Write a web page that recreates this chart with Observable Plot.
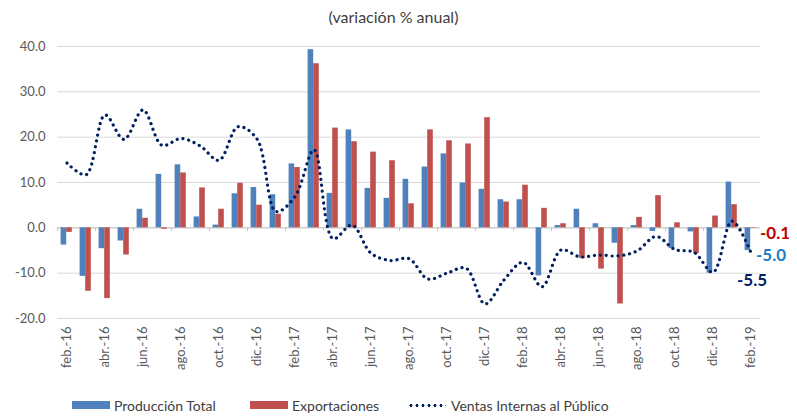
<!DOCTYPE html>
<html>
<head>
<meta charset="utf-8">
<script src="https://cdn.jsdelivr.net/npm/d3@7"></script>
<script src="https://cdn.jsdelivr.net/npm/@observablehq/plot@0.6"></script>
<style>
  html, body { margin: 0; padding: 0; background: #fff; }
  #wrap { position: relative; width: 797px; height: 416px; font-family: Lato, sans-serif; color: #595959; }
  #title { height: 30px; text-align: center; font-size: 16px; line-height: 18px; padding-top: 8px; padding-right: 10px; box-sizing: border-box; color: #404040; }
  #legend { position: absolute; left: 0; top: 396px; width: 797px; height: 20px; font-size: 14px; color: #404040; }
  .item { position: absolute; top: 0; height: 18px; display: flex; align-items: center; }
  .sw { width: 38px; height: 8px; margin-right: 4px; }
  .dots { width: 38px; height: 3px; margin-right: 5px; background-image: radial-gradient(circle, #002060 1.4px, transparent 1.6px); background-size: 6px 3px; background-repeat: repeat-x; }
</style>
</head>
<body>
<div id="wrap">
  <div id="title">(variación % anual)</div>
  <div id="chart"></div>
  <div id="legend"></div>
</div>
<script>
const months = ["feb.-16","mar.-16","abr.-16","may.-16","jun.-16","jul.-16","ago.-16","sep.-16","oct.-16","nov.-16","dic.-16",
  "ene.-17","feb.-17","mar.-17","abr.-17","may.-17","jun.-17","jul.-17","ago.-17","sep.-17","oct.-17","nov.-17","dic.-17",
  "ene.-18","feb.-18","mar.-18","abr.-18","may.-18","jun.-18","jul.-18","ago.-18","sep.-18","oct.-18","nov.-18","dic.-18",
  "ene.-19","feb.-19"];

const produccionTotal = [-3.8,-10.7,-4.6,-2.9,4.1,11.8,13.9,2.4,0.6,7.5,8.9,
  7.3,14.1,39.3,7.6,21.6,8.7,6.5,10.7,13.4,16.3,9.9,8.5,
  6.2,6.2,-10.6,0.5,4.1,0.9,-3.4,0.5,-0.8,-4.6,-0.9,-10.0,
  10.1,-5.0];

const exportaciones = [-1.0,-14.0,-15.6,-6.0,2.1,-0.3,12.1,8.8,4.1,9.8,5.0,
  3.0,13.3,36.2,22.0,19.0,16.7,14.8,5.3,21.6,19.2,18.5,24.3,
  5.7,9.4,4.3,0.9,-6.8,-9.1,-16.8,2.3,7.1,1.1,-5.7,2.6,
  5.1,-0.1];

const ventasInternas = [14.3,11.7,24.9,19.5,26.0,18.2,19.7,18.1,14.9,22.3,19.6,
  3.6,6.9,17.2,-2.4,0.6,-5.6,-7.2,-6.8,-11.3,-10.0,-8.9,-16.8,
  -11.5,-7.6,-13.0,-4.9,-6.4,-6.0,-6.2,-5.1,-1.9,-4.8,-5.4,-9.8,
  1.5,-5.5];

const yTicks = [-20, -10, 0, 10, 20, 30, 40];
const xTickLabels = months.filter((d, i) => i % 2 === 0);

const colors = { prod: "#4F81BD", exp: "#C0504D", ventas: "#002060" };
const labelColors = { prod: "#1F7CC4", exp: "#C00000", ventas: "#002060" };

const data = months.map((m, i) => ({
  month: m,
  prod: produccionTotal[i],
  exp: exportaciones[i],
  ventas: ventasInternas[i]
}));
const last = data[data.length - 1];

const chart = Plot.plot({
  width: 797,
  height: 360,
  marginLeft: 57,
  marginRight: 37,
  marginTop: 16,
  marginBottom: 72,
  style: { fontFamily: "Lato, sans-serif", fontSize: "13px", color: "#595959", background: "transparent" },
  x: { domain: months, padding: 0, label: null, axis: null },
  y: { domain: [-20, 40], label: null, axis: null },
  marks: [
    Plot.gridY(yTicks, { stroke: "#d9d9d9", strokeOpacity: 1 }),
    Plot.ruleY([0], { stroke: "#c6c6c6", strokeOpacity: 1 }),
    Plot.ruleX(xTickLabels, { x: d => d, y1: 0, y2: -0.8, dx: -9.5, stroke: "#c6c6c6" }),
    Plot.axisY(yTicks, { tickSize: 0, tickPadding: 12, tickFormat: d => d.toFixed(1), fill: "#595959", fontSize: 13 }),
    Plot.axisX(xTickLabels, { tickSize: 0, tickPadding: 8, tickRotate: -90, fill: "#595959", fontSize: 13 }),
    Plot.barY(data, { x: "month", y: "prod", fill: colors.prod, insetLeft: 3.6, insetRight: 9.8 }),
    Plot.barY(data, { x: "month", y: "exp", fill: colors.exp, insetLeft: 9.2, insetRight: 4.2 }),
    Plot.line(data, { x: "month", y: "ventas", curve: "catmull-rom", stroke: colors.ventas, strokeWidth: 3.2,
      strokeDasharray: "0.1 5.8", strokeLinecap: "round" }),
    Plot.text([last], { x: "month", y: "exp", text: d => d.exp.toFixed(1), fill: labelColors.exp,
      fontWeight: "bold", fontSize: 17, textAnchor: "start", dx: 9, dy: 5 }),
    Plot.text([last], { x: "month", y: "prod", text: d => d.prod.toFixed(1), fill: labelColors.prod,
      fontWeight: "bold", fontSize: 17, textAnchor: "start", dx: 5, dy: 5 }),
    Plot.text([last], { x: "month", y: "ventas", text: d => d.ventas.toFixed(1), fill: labelColors.ventas,
      fontWeight: "bold", fontSize: 17, textAnchor: "start", dx: -14, dy: 28 })
  ]
});
document.getElementById("chart").appendChild(chart);

const legendItems = [
  { name: "Producción Total", kind: "bar", color: colors.prod, left: 72 },
  { name: "Exportaciones", kind: "bar", color: colors.exp, left: 250 },
  { name: "Ventas Internas al Público", kind: "dots", color: colors.ventas, left: 408 }
];
const legend = document.getElementById("legend");
for (const it of legendItems) {
  const el = document.createElement("div");
  el.className = "item";
  el.style.left = it.left + "px";
  const sw = document.createElement("div");
  if (it.kind === "bar") { sw.className = "sw"; sw.style.background = it.color; }
  else { sw.className = "dots"; }
  const tx = document.createElement("span");
  tx.textContent = it.name;
  el.appendChild(sw); el.appendChild(tx);
  legend.appendChild(el);
}
</script>
</body>
</html>
